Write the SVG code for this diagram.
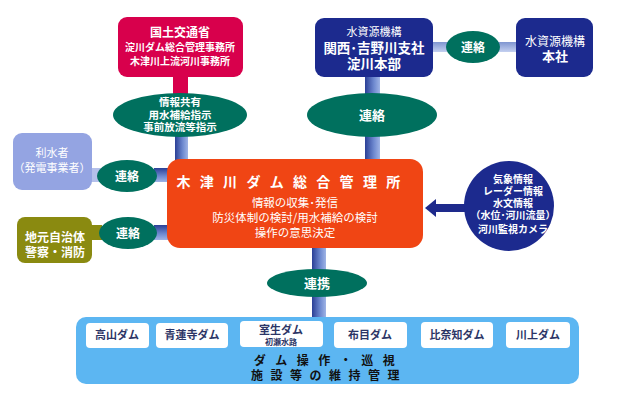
<svg xmlns="http://www.w3.org/2000/svg" width="618" height="407" viewBox="0 0 618 407">
<defs>
<linearGradient id="gv" x1="0" y1="0" x2="1" y2="0">
<stop offset="0" stop-color="#2a3f96"/><stop offset="0.6" stop-color="#6f8ad0"/><stop offset="1" stop-color="#9fb4e6"/>
</linearGradient>
<linearGradient id="gh" x1="0" y1="0" x2="0" y2="1">
<stop offset="0" stop-color="#2a3f96"/><stop offset="0.6" stop-color="#6f8ad0"/><stop offset="1" stop-color="#9fb4e6"/>
</linearGradient>
<linearGradient id="gh2" x1="0" y1="0" x2="0" y2="1">
<stop offset="0" stop-color="#7f95d0"/><stop offset="1" stop-color="#c4d0f0"/>
</linearGradient>
<marker id="ah" markerWidth="12" markerHeight="18" refX="0" refY="9" orient="auto" markerUnits="userSpaceOnUse">
<path d="M0,0 L11,9 L0,18 Z" fill="#1e2a8c"/>
</marker>
</defs>
<style>
text{font-family:"Noto Sans CJK JP","Noto Sans CJK SC",sans-serif;text-anchor:middle;}
.w{fill:#fff;}
.b{font-weight:bold;}
.ell{fill:#00705e;}
.dam{fill:#fff;}
.dt{fill:#2c3566;font-size:11px;font-weight:bold;}
</style>
<g id="connectors">
<rect x="173" y="76" width="15" height="20" fill="#d8004c"/>
<rect x="175" y="136" width="13" height="25" fill="url(#gv)"/>
<rect x="365" y="76" width="15" height="19" fill="url(#gv)"/>
<rect x="365" y="136" width="15" height="25" fill="url(#gv)"/>
<rect x="432" y="42" width="86" height="10" fill="url(#gh2)"/>
<rect x="90" y="168" width="12" height="14" fill="#b4c0ea"/>
<rect x="154" y="168" width="15" height="14" fill="url(#gh)"/>
<rect x="90" y="225" width="12" height="15" fill="#8a8a10"/>
<rect x="154" y="225" width="15" height="15" fill="url(#gh)"/>
<rect x="312" y="247" width="14" height="72" fill="url(#gv)"/>
<line x1="466" y1="208" x2="436" y2="208" stroke="#1e2a8c" stroke-width="8" marker-end="url(#ah)"/>
</g>
<g id="mlit">
<rect x="118" y="17" width="125" height="60" rx="9" fill="#d8004c"/>
<text x="180" y="37" class="w b" font-size="12">国土交通省</text>
<text x="180" y="51" class="w b" font-size="10">淀川ダム総合管理事務所</text>
<text x="180" y="65" class="w b" font-size="10">木津川上流河川事務所</text>
</g>
<g id="e-share">
<ellipse cx="180" cy="115" rx="67" ry="22" class="ell"/>
<text x="180" y="106" class="w b" font-size="10.5">情報共有</text>
<text x="180" y="118.5" class="w b" font-size="10.5">用水補給指示</text>
<text x="180" y="131" class="w b" font-size="10.5">事前放流等指示</text>
</g>
<g id="jwa-kansai">
<rect x="315" y="18" width="118" height="59" rx="9" fill="#1c2a8e"/>
<text x="374" y="36" class="w" font-size="11">水資源機構</text>
<text x="374" y="53" class="w b" font-size="13.5">関西･吉野川支社</text>
<text x="374" y="69" class="w b" font-size="13.5">淀川本部</text>
</g>
<g id="e-top">
<ellipse cx="473" cy="47" rx="27" ry="16" class="ell"/>
<text x="473" y="52" class="w b" font-size="12">連絡</text>
</g>
<g id="jwa-hq">
<rect x="516" y="18" width="77" height="59" rx="9" fill="#1c2a8e"/>
<text x="555" y="46" class="w" font-size="12">水資源機構</text>
<text x="555" y="61" class="w b" font-size="13">本社</text>
</g>
<g id="e-mid">
<ellipse cx="372" cy="115" rx="65" ry="22" class="ell"/>
<text x="372" y="120" class="w b" font-size="13">連絡</text>
</g>
<g id="water-users">
<rect x="13" y="133" width="79" height="57" rx="9" fill="#94a4e2"/>
<text x="52" y="157" class="w" font-size="11">利水者</text>
<text x="52" y="172" class="w" font-size="11">（発電事業者）</text>
</g>
<g id="e-left1">
<ellipse cx="127" cy="176" rx="30" ry="16" class="ell"/>
<text x="127" y="181" class="w b" font-size="12">連絡</text>
</g>
<g id="local-gov">
<rect x="17" y="217" width="75" height="46" rx="8" fill="#8a8a10"/>
<text x="55" y="242" class="w b" font-size="12">地元自治体</text>
<text x="55" y="257" class="w b" font-size="12">警察・消防</text>
</g>
<g id="e-left2">
<ellipse cx="128" cy="233" rx="29" ry="16" class="ell"/>
<text x="128" y="238" class="w b" font-size="12">連絡</text>
</g>
<g id="main">
<rect x="167" y="159" width="256" height="89" rx="13" fill="#f04514"/>
<text x="293" y="187" class="w b" font-size="14" letter-spacing="9.3">木津川ダム総合管理所</text>
<text x="295" y="207" class="w" font-size="11.5">情報の収集･発信</text>
<text x="295" y="222" class="w" font-size="11.5">防災体制の検討/用水補給の検討</text>
<text x="295" y="237" class="w" font-size="11.5">操作の意思決定</text>
</g>
<g id="info">
<circle cx="509" cy="206" r="45" fill="#1c2a8e"/>
<text x="513" y="183" class="w b" font-size="10">気象情報</text>
<text x="513" y="195" class="w b" font-size="10">レーダー情報</text>
<text x="513" y="207" class="w b" font-size="10">水文情報</text>
<text x="513" y="219" class="w b" font-size="10">（水位･河川流量）</text>
<text x="513" y="233" class="w b" font-size="10">河川監視カメラ</text>
</g>
<g id="e-bottom">
<ellipse cx="317" cy="283" rx="50" ry="14" class="ell"/>
<text x="317" y="288" class="w b" font-size="13">連携</text>
</g>
<g id="dams">
<rect x="76" y="317" width="503" height="67" rx="10" fill="#5cb6f2"/>
<rect x="86" y="323" width="63" height="25" rx="4" class="dam"/>
<text x="117" y="339" class="dt">高山ダム</text>
<rect x="156" y="323" width="72" height="25" rx="4" class="dam"/>
<text x="192" y="339" class="dt">青蓮寺ダム</text>
<rect x="240" y="321" width="83" height="26" rx="4" class="dam"/>
<text x="281" y="334" class="dt" font-weight="normal">室生ダム</text>
<text x="281" y="345" fill="#2c3566" font-size="8" font-weight="bold">初瀬水路</text>
<rect x="334" y="322" width="73" height="26" rx="4" class="dam"/>
<text x="370" y="339" class="dt">布目ダム</text>
<rect x="421" y="322" width="72" height="26" rx="4" class="dam"/>
<text x="457" y="339" class="dt">比奈知ダム</text>
<rect x="506" y="322" width="64" height="26" rx="4" class="dam"/>
<text x="538" y="339" class="dt">川上ダム</text>
<text x="329" y="365" fill="#111" font-size="12" font-weight="bold" letter-spacing="9.5">ダム操作・巡視</text>
<text x="329" y="380" fill="#111" font-size="12" font-weight="bold" letter-spacing="7.5">施設等の維持管理</text>
</g>
</svg>
